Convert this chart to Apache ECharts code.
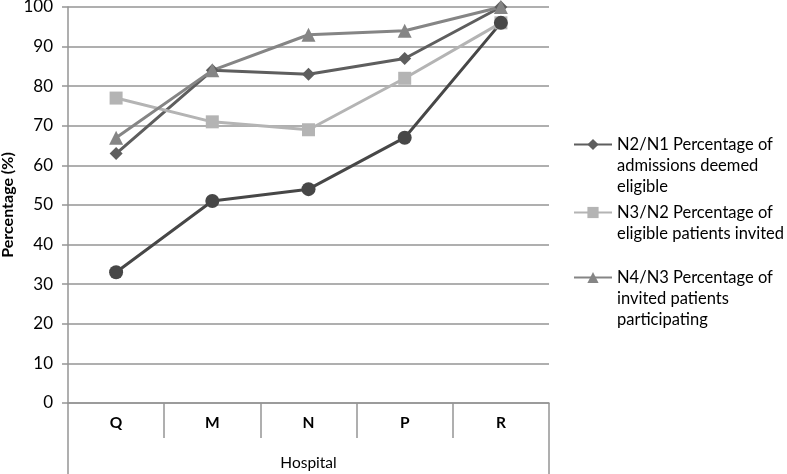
<!DOCTYPE html>
<html>
<head>
<meta charset="utf-8">
<script src="https://cdn.jsdelivr.net/npm/echarts@6/dist/echarts.min.js"></script>
<style>html,body{margin:0;padding:0;background:#fff}#c{width:787px;height:474px}</style>
</head>
<body>
<div id="c"></div>
<script>
var categories = ['Q', 'M', 'N', 'P', 'R'];
var yTicks = { min: 0, max: 100, interval: 10 };
var seriesNames = [
  'N2/N1 Percentage of\nadmissions deemed\neligible',
  'N3/N2 Percentage of\neligible patients invited',
  'N4/N3 Percentage of\ninvited patients\nparticipating',
  'Unlabelled'
];
var n2n1 = [63, 84, 83, 87, 100];
var n3n2 = [77, 71, 69, 82, 96];
var n4n3 = [67, 84, 93, 94, 100];
var circleSeries = [33, 51, 54, 67, 96];

var FONT = 'Lato';
var GRID = '#959595';
var chart = echarts.init(document.getElementById('c'));

function mkLegend(name, top) {
  return {
    top: top, left: 573, orient: 'vertical', padding: 0,
    data: [{ name: name }],
    itemWidth: 38, itemHeight: 14, itemGap: 0,
    selectedMode: false,
    formatter: function (n) {
      var k = n.split('\n').length - 1; // pad lines above so icon aligns with first line
      var pad = '';
      for (var i = 0; i < k; i++) pad += ' \n';
      return pad + n;
    },
    textStyle: { fontFamily: FONT, fontSize: 16.5, color: '#000', lineHeight: 21 }
  };
}

chart.setOption({
  animation: false,
  grid: { left: 68, right: 238, top: 7, bottom: 71, outerBoundsMode: 'none', containLabel: false },
  legend: [
    mkLegend(seriesNames[0], 92),
    mkLegend(seriesNames[1], 181),
    mkLegend(seriesNames[2], 225)
  ],
  xAxis: [{
    type: 'category', data: categories, boundaryGap: true,
    axisLine: { lineStyle: { color: GRID, width: 1.5 } },
    axisTick: { show: true, length: 35, interval: 0, lineStyle: { color: GRID, width: 1.5 } },
    axisLabel: { fontFamily: FONT, fontSize: 15.5, fontWeight: 'bold', color: '#000', margin: 12, interval: 0 }
  }, {
    type: 'category', data: [''], position: 'bottom', boundaryGap: true,
    axisLine: { show: false },
    axisTick: { show: true, length: 71, lineStyle: { color: GRID, width: 1.5 } },
    axisLabel: { show: false },
    name: 'Hospital', nameLocation: 'middle', nameGap: 52, nameMoveOverlap: false,
    nameTextStyle: { fontFamily: FONT, fontSize: 15.5, color: '#000' }
  }],
  yAxis: {
    type: 'value', min: yTicks.min, max: yTicks.max, interval: yTicks.interval,
    axisLine: { show: true, lineStyle: { color: GRID, width: 1.5 } },
    axisTick: { show: true, length: 6, lineStyle: { color: GRID, width: 1.5 } },
    splitLine: { lineStyle: { color: GRID, width: 1.5 } },
    axisLabel: { fontFamily: FONT, fontSize: 17, color: '#000', margin: 15 },
    name: 'Percentage (%)', nameLocation: 'middle', nameGap: 52, nameRotate: 90,
    nameMoveOverlap: false,
    nameTextStyle: { fontFamily: FONT, fontSize: 16, fontWeight: 'bold', color: '#000' }
  },
  series: [
    { name: seriesNames[0], type: 'line', data: n2n1, symbol: 'diamond', symbolSize: 13,
      itemStyle: { color: '#5e5e5e' }, lineStyle: { color: '#5e5e5e', width: 3 } },
    { name: seriesNames[1], type: 'line', data: n3n2, symbol: 'rect', symbolSize: 13,
      itemStyle: { color: '#b4b4b4' }, lineStyle: { color: '#b4b4b4', width: 3 } },
    { name: seriesNames[2], type: 'line', data: n4n3, symbol: 'triangle', symbolSize: 14,
      itemStyle: { color: '#858585' }, lineStyle: { color: '#858585', width: 3 } },
    { name: seriesNames[3], type: 'line', data: circleSeries, symbol: 'circle', symbolSize: 14,
      itemStyle: { color: '#474747' }, lineStyle: { color: '#474747', width: 3 } }
  ]
});
</script>
</body>
</html>
